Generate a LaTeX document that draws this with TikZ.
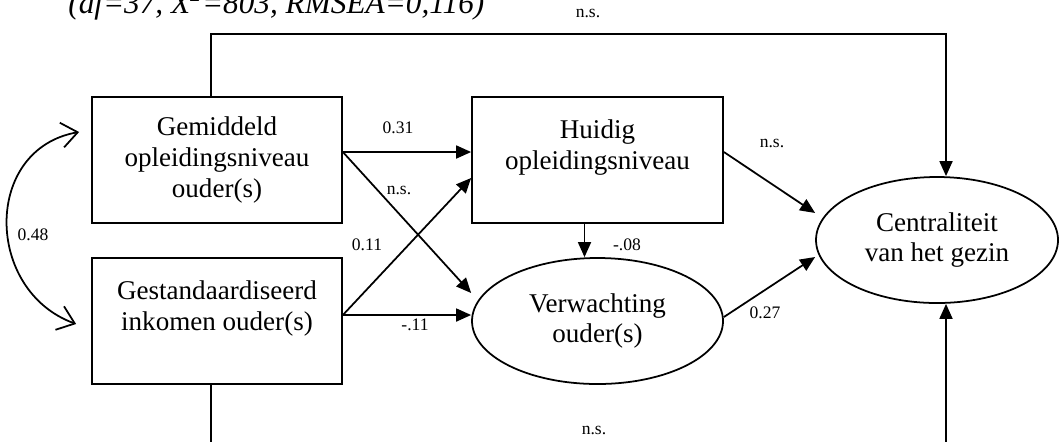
\documentclass[tikz,border=0pt]{standalone}
\usepackage{fontspec}
\setmainfont{Liberation Serif}
\usetikzlibrary{arrows.meta,calc,shapes.geometric}

\tikzset{
  varbox/.style={draw, line width=1pt, minimum width=5cm, minimum height=2.52cm,
    align=center, inner sep=0pt, font=\fontsize{15.4}{17.6}\selectfont},
  latent/.style={varbox, ellipse},
  effect/.style={line width=1pt, -{Triangle[length=0.3cm,width=0.26cm]}},
  covar/.style={line width=1pt, {Straight Barb[length=0.32cm,width=0.5cm]}-{Straight Barb[length=0.32cm,width=0.5cm]}},
  coef/.style={font=\fontsize{10}{12}\selectfont, inner sep=0pt},
}

\begin{document}
\begin{tikzpicture}
  \useasboundingbox (0,0) rectangle (21.2,-8.82);

  \node[anchor=base west, inner sep=0pt, font=\fontsize{17.8}{20}\selectfont\itshape] (fit) at (1.36,-0.26)
    {(df=37, X\textsuperscript{2}=803, RMSEA=0,116)};

  \node[varbox] (gem) at (4.34,-3.2) {Gemiddeld\\opleidingsniveau\\ouder(s)};
  \node[varbox] (gest) at (4.34,-6.42) {Gestandaardiseerd\\inkomen ouder(s)\\\mbox{}};
  \node[varbox, minimum width=5.02cm] (huid) at (11.95,-3.2) {Huidig\\opleidingsniveau\\\mbox{}};
  \node[latent, minimum width=5.02cm] (verw) at (11.95,-6.42) {Verwachting\\ouder(s)};
  \node[latent, minimum width=4.84cm] (cent) at (18.74,-4.8) {Centraliteit\\van het gezin};

  \coordinate (topline) at (11.76,-0.68);
  \coordinate (botline) at (11.88,-9.2);

  % paden
  \draw[effect] ($(gem.east)+(0,0.16)$) -- ($(huid.west)+(0,0.16)$);
  \draw[effect] ($(gem.east)+(0,0.16)$) -- ($(verw.west)+(0,0.56)$);
  \draw[effect] ($(gest.east)+(0,0.12)$) -- ($(huid.west)+(0,-0.36)$);
  \draw[effect] ($(gest.east)+(0,0.12)$) -- ($(verw.west)+(0,0.12)$);
  \draw[effect] ($(huid.south)+(-0.26,0)$) -- ($(verw.north)+(-0.26,0)$);
  \draw[effect] ($(huid.east)+(0,0.16)$) -- ($(cent.west)+(0,0.54)$);
  \draw[effect] ($(verw.east)+(0,0.08)$) -- ($(cent.west)+(0,-0.34)$);
  \draw[effect] ($(gem.north)+(-0.12,0)$) |- (topline) -| ($(cent.north)+(0.18,0)$);
  \draw[effect] ($(gest.south)+(-0.12,0)$) |- (botline) -| ($(cent.south)+(0.18,0)$);
  \draw[covar] ($(gem.west)+(-0.24,0.56)$) to[out=190, in=160, looseness=1.3] ($(gest.west)+(-0.3,-0.06)$);

  % coefficienten
  \node[coef] (c31) at (7.96,-2.56) {0.31};
  \node[coef] (ns1) at (7.98,-3.8) {n.s.};
  \node[coef] (c11) at (7.34,-4.9) {0.11};
  \node[coef] (m11) at (8.3,-6.5) {-.11};
  \node[coef] (m08) at (12.54,-4.9) {-.08};
  \node[coef] (ns2) at (15.44,-2.86) {n.s.};
  \node[coef] (c27) at (15.3,-6.26) {0.27};
  \node[coef] (c48) at (0.66,-4.7) {0.48};
  \node[coef] (nstop) at (11.76,-0.26) {n.s.};
  \node[coef] (nsbot) at (11.88,-8.6) {n.s.};
\end{tikzpicture}
\end{document}
